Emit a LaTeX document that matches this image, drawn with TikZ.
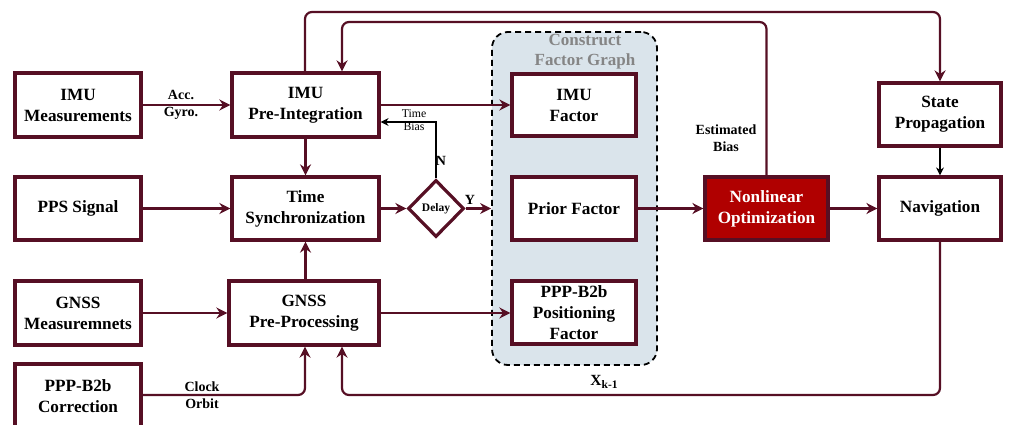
\documentclass[tikz,border=0pt]{standalone}
\usepackage{fontspec}
\setmainfont{Liberation Serif}
\usetikzlibrary{arrows.meta,shapes.geometric,calc}
\definecolor{maroon}{HTML}{560F24}
\definecolor{nlred}{HTML}{B00000}
\definecolor{grpfill}{HTML}{DAE4EB}
\definecolor{grpgray}{HTML}{858585}
\begin{document}
\begin{tikzpicture}[x=1pt,y=-1pt,
  box/.style={draw=maroon,line width=3.2pt,fill=white,align=center,inner sep=0pt,
    font=\bfseries\fontsize{17.2}{21}\selectfont,minimum width=124pt,minimum height=62pt},
  conn/.style={draw=maroon,line width=2.2pt,-{Stealth[length=11pt,width=11pt]},rounded corners=7pt},
  thin/.style={draw=black,line width=1.4pt,-{Stealth[length=8pt,width=8pt]}},
  lbl/.style={align=center,inner sep=0pt,font=\bfseries\fontsize{14}{17}\selectfont},
  smalllbl/.style={align=center,inner sep=0pt,font=\fontsize{11.8}{13}\selectfont}]
\useasboundingbox (0,0) rectangle (1012,425);
\clip (0,0) rectangle (1012,425);
% group
\node[draw=black,dash pattern=on 6pt off 4pt,line width=1.8pt,fill=grpfill,rounded corners=16pt,
  minimum width=165pt,minimum height=333pt,inner sep=0pt] (grp) at (574.5,198.5) {};
\node[align=center,inner sep=0pt,text=grpgray,font=\bfseries\fontsize{17}{20}\selectfont] (grptitle) at (585,52) {Construct\\Factor Graph};
% boxes
\node[box,minimum width=126pt,minimum height=64pt] (imu) at (78,105) {IMU\\Measurements};
\node[box,minimum width=147pt,minimum height=64pt] (pre) at (305.5,105) {IMU\\Pre-Integration};
\node[box,minimum width=126pt,minimum height=63pt] (pps) at (78,208.5) {PPS Signal};
\node[box,minimum width=147pt,minimum height=63pt] (sync) at (305.5,208.5) {Time\\Synchronization};
\node[box,minimum width=126pt,minimum height=64pt] (gm) at (78,313) {GNSS\\Measuremnets};
\node[box,minimum width=150pt,minimum height=64pt] (gpp) at (304,313) {GNSS\\Pre-Processing};
\node[box,minimum width=126pt,minimum height=64pt] (ppp) at (78,396) {PPP-B2b\\Correction};
\node[box] (imuf) at (574,105) {IMU\\Factor};
\node[box,minimum height=63pt] (prior) at (574,208.5) {Prior Factor};
\node[box,minimum height=63pt] (posf) at (574,312.5) {PPP-B2b\\Positioning\\Factor};
\node[box,fill=nlred,text=white,minimum width=123pt,minimum height=63pt] (nl) at (766.5,208.5) {Nonlinear\\Optimization};
\node[box,minimum width=122pt,minimum height=63pt] (sp) at (940,114.5) {State\\Propagation};
\node[box,minimum width=122pt,minimum height=63pt] (nav) at (940,208.5) {Navigation};
\node[draw=maroon,line width=3.2pt,fill=white,shape=diamond,inner sep=0pt,minimum width=56pt,minimum height=57pt,
  font=\bfseries\fontsize{11.5}{12}\selectfont] (delay) at (436,208.5) {Delay};
% coordinates
\coordinate (top1) at (305,12);
\coordinate (top2) at (342,22);
\coordinate (bot1) at (305,395);
\coordinate (bot2) at (342,395);
% connectors
\draw[conn] (imu.east) -- (pre.west);
\node[lbl] (accl) at (181,105) {Acc.\\Gyro.};
\draw[conn] (pre.east) -- (imuf.west);
\draw[conn] (pre.south) -- (sync.north);
\draw[conn] (pps.east) -- (sync.west);
\draw[conn] (sync.east) -- (delay.west);
\draw[conn] (delay.east) -- (delay.east -| grp.west);
\node[lbl] (ylbl) at (470,200) {Y};
\draw[thin] (delay.north) |- ($(pre.east)+(0,17)$);
\node[smalllbl] (tblbl) at (414,120) {Time\\Bias};
\node[lbl] (nlbl) at (441,161) {N};
\draw[conn] (gpp.north -| sync.south) -- (sync.south);
\draw[conn] (gm.east) -- (gm.east -| gpp.west);
\draw[conn] (gpp.east) -- (gpp.east -| posf.west);
\draw[conn] (ppp.east |- bot1) -- (bot1) -- (bot1 |- gpp.south);
\node[lbl] (colbl) at (202,395) {Clock\\Orbit};
\draw[conn] (nav.south) -- (nav.south |- bot2) -- (bot2) -- (bot2 |- gpp.south);
\node[inner sep=0pt,font=\bfseries\fontsize{15.5}{16}\selectfont] (xlbl) at (604,382) {X\raisebox{-0.45ex}{\fontsize{11.5}{11}\selectfont k-1}};
\draw[conn] (top1 |- pre.north) -- (top1) -- (top1 -| sp.north) -- (sp.north);
\draw[conn] (nl.north) -- (nl.north |- top2) -- (top2) -- (top2 |- pre.north);
\node[lbl] (eblbl) at (726,138) {Estimated\\Bias};
\draw[conn] (prior.east) -- (nl.west);
\draw[conn] (nl.east) -- (nav.west);
\draw[thin] (sp.south) -- (nav.north);
\end{tikzpicture}
\end{document}
